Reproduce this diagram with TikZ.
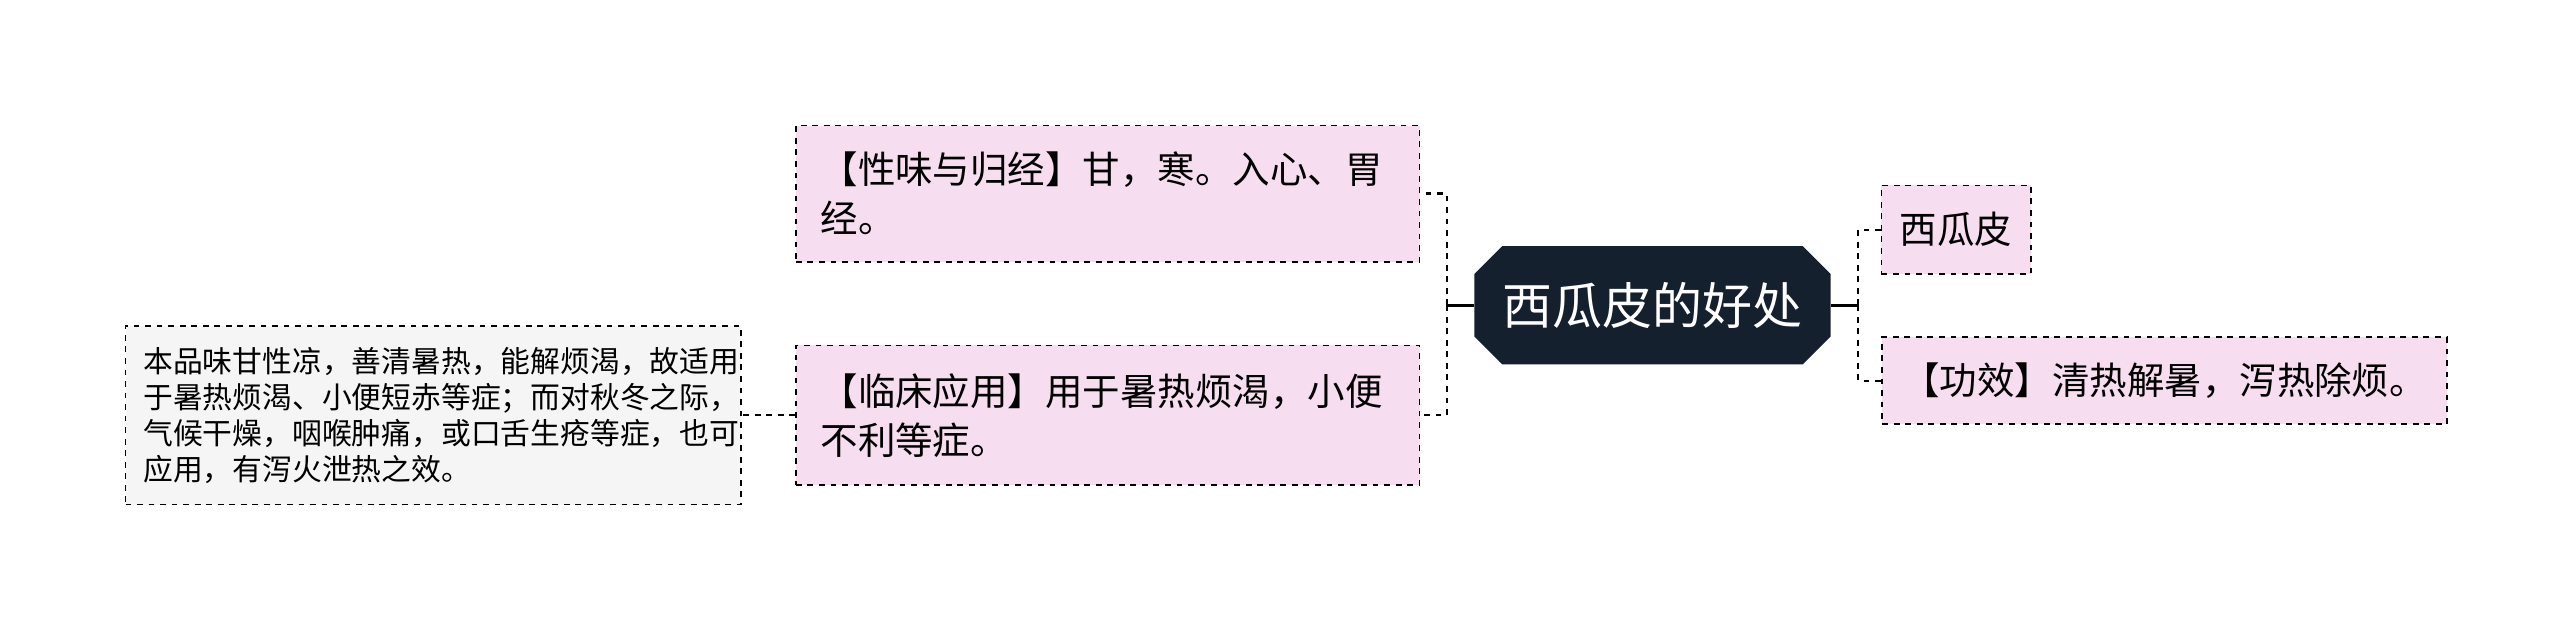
\documentclass[tikz,border=0pt]{standalone}
\usepackage{fontspec}
\setmainfont{Noto Sans CJK SC}
\usetikzlibrary{shapes.misc}
\definecolor{my_pink}{HTML}{F6DDEF}
\definecolor{my_dark}{HTML}{15202E}
\definecolor{my_grey}{HTML}{F5F5F5}
\begin{document}
\begin{tikzpicture}[x=0.03cm,y=-0.03cm,
  topic/.style={chamfered rectangle,chamfered rectangle xsep=0.38cm,fill=my_dark,text=white,font=\fontsize{26pt}{30pt}\selectfont,minimum width=6.51cm,minimum height=2.16cm,inner sep=0pt},
  branch/.style={rectangle,draw,dashed,thick,fill=my_pink,font=\fontsize{19.5pt}{25.5pt}\selectfont,align=left,inner sep=0pt},
  leaf/.style={rectangle,draw,dashed,thick,fill=my_grey,font=\fontsize{15.5pt}{18.7pt}\selectfont,align=left,inner sep=0pt},
  conn/.style={draw,dashed,line width=1.2pt},
  stub/.style={draw,line width=1.6pt}
  ]

\useasboundingbox (0,0) rectangle (1560,383);

% nodes
\node[topic] (main) at (1007,186) {西瓜皮的好处};
\node[branch,minimum width=2.73cm,minimum height=1.62cm] (skin) at (1192,140) {西瓜皮};
\node[branch,minimum width=10.32cm,minimum height=1.59cm] (effect) at (1319,232) {【功效】清热解暑，泻热除烦。};
\node[branch,minimum width=11.4cm,minimum height=2.49cm,text width=10.5cm] (taste) at (675,118) {【性味与归经】甘，寒。入心、胃\\经。};
\node[branch,minimum width=11.4cm,minimum height=2.55cm,text width=10.5cm] (clinic) at (675,253) {【临床应用】用于暑热烦渴，小便\\不利等症。};
\node[leaf,minimum width=11.25cm,minimum height=3.27cm,text width=10.6cm] (note) at (264,253) {本品味甘性凉，善清暑热，能解烦渴，故适用\\于暑热烦渴、小便短赤等症；而对秋冬之际，\\气候干燥，咽喉肿痛，或口舌生疮等症，也可\\应用，有泻火泄热之效。};

% connectors
\coordinate (lhub) at ([xshift=-0.5cm]main.west);
\coordinate (rhub) at ([xshift=0.5cm]main.east);
\path[stub] (main.west) -- (lhub);
\path[stub] (main.east) -- (rhub);
\path[conn] (lhub) |- (taste.east);
\path[conn] (lhub) |- (clinic.east);
\path[conn] (rhub) |- (skin.west);
\path[conn] (rhub) |- (effect.west);
\path[conn] (clinic.west) -- (note.east);

\end{tikzpicture}
\end{document}
